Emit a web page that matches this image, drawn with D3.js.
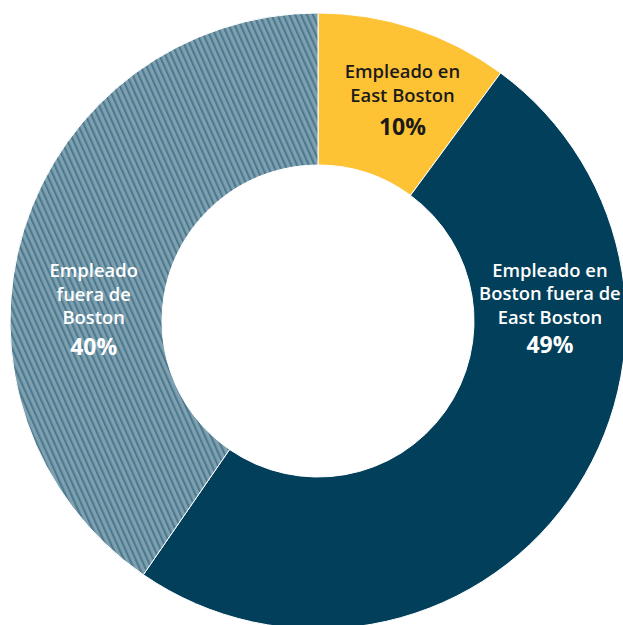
<!DOCTYPE html>
<html>
<head>
<meta charset="utf-8">
<script src="https://cdn.jsdelivr.net/npm/d3@7"></script>
<style>
  html, body { margin: 0; padding: 0; background: #ffffff; }
  svg { display: block; }
  text { font-family: "Open Sans", "Noto Sans", sans-serif; }
</style>
</head>
<body>
<svg id="chart" width="623" height="625"></svg>
<script>
// Employment location shares (percent)
const categories = ["Empleado en East Boston", "Empleado en Boston fuera de East Boston", "Empleado fuera de Boston"];
const values = [10, 49, 40];
const labelLines = [
  ["Empleado en", "East Boston"],
  ["Empleado en", "Boston fuera de", "East Boston"],
  ["Empleado", "fuera de", "Boston"]
];
const valueLabels = ["10%", "49%", "40%"];

// Layout and styling
const cx = 318, cy = 321;
const outerR = 308, innerR = 156;
const fills = ["#fec334", "#023f5a", "url(#hatch)"];
const textColors = ["#1a1a1a", "#ffffff", "#ffffff"];
// polar position (degrees clockwise from top, radius) of each label's first baseline
const labelPos = [
  { angle: 19.2, radius: 256.8 },
  { angle: 79.3, radius: 236 },
  { angle: 281.0, radius: 228.5 }
];
const lineStep = 23.2;
const pctGap = [33.5, 29.5, 31.3];

const svg = d3.select("#chart");

// Diagonal hatch for the outside-Boston slice
const defs = svg.append("defs");
const pat = defs.append("pattern")
  .attr("id", "hatch")
  .attr("patternUnits", "userSpaceOnUse")
  .attr("width", 5.4)
  .attr("height", 10)
  .attr("patternTransform", "rotate(-24)");
pat.append("rect").attr("width", 5.4).attr("height", 10).attr("fill", "#7ea0af");
pat.append("rect").attr("x", 0).attr("width", 2.1).attr("height", 10).attr("fill", "#4c798f");

const pie = d3.pie().sort(null).value(d => d)(values);
const arc = d3.arc().innerRadius(innerR).outerRadius(outerR);

const g = svg.append("g").attr("transform", `translate(${cx},${cy})`);

g.selectAll("path.slice")
  .data(pie)
  .join("path")
  .attr("class", "slice")
  .attr("d", arc)
  .attr("fill", (d, i) => fills[i])
  .attr("stroke", "#ffffff")
  .attr("stroke-width", 1);

// Slice labels
pie.forEach((d, i) => {
  const a = labelPos[i].angle * Math.PI / 180;
  const x = Math.sin(a) * labelPos[i].radius;
  const y = -Math.cos(a) * labelPos[i].radius;
  const t = g.append("text")
    .attr("text-anchor", "middle")
    .attr("fill", textColors[i]);
  labelLines[i].forEach((line, j) => {
    t.append("tspan")
      .attr("x", x)
      .attr("y", y + j * lineStep)
      .attr("font-size", 18.4)
      .attr("font-weight", 600)
      .text(line);
  });
  const lastY = y + (labelLines[i].length - 1) * lineStep;
  g.append("text")
    .attr("x", x)
    .attr("y", lastY + pctGap[i])
    .attr("text-anchor", "middle")
    .attr("fill", textColors[i])
    .attr("font-size", 23)
    .attr("font-weight", 700)
    .text(valueLabels[i]);
});
</script>
</body>
</html>
